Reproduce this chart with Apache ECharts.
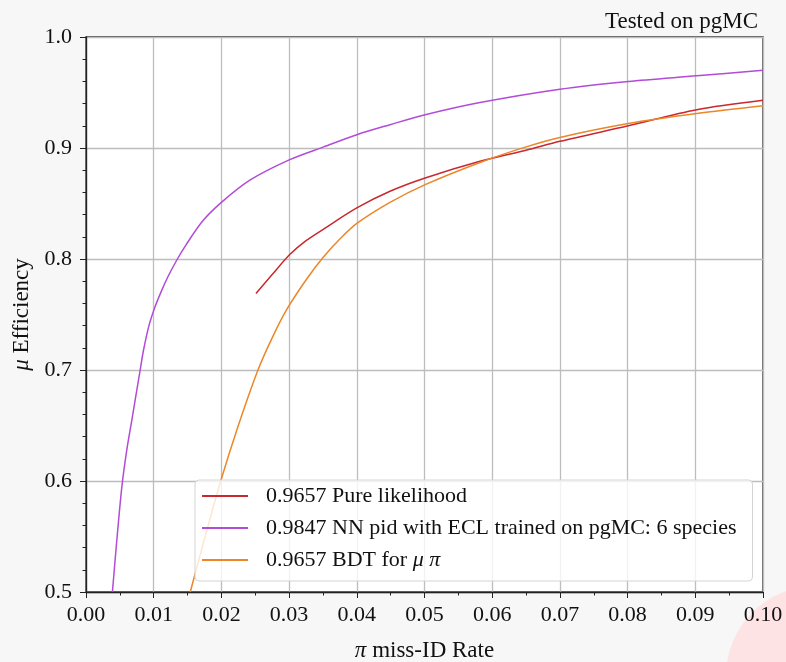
<!DOCTYPE html>
<html>
<head>
<meta charset="utf-8">
<script src="https://cdn.jsdelivr.net/npm/echarts@6/dist/echarts.min.js"></script>
<style>
  html, body { margin: 0; padding: 0; background: #f7f7f7; }
  #chart { width: 786px; height: 662px; }
</style>
</head>
<body>
<div id="chart"></div>
<script>
// Muon efficiency vs. pion mis-identification rate for three PID methods

const seriesNames = [
  '0.9657 Pure likelihood',
  '0.9847 NN pid with ECL trained on pgMC: 6 species',
  '0.9657 BDT for μ π'
];

// Pure likelihood
const likeRate = [0.0251, 0.0275, 0.0301, 0.0325, 0.0351, 0.0400, 0.0449, 0.0501, 0.0582, 0.0650, 0.0700, 0.0801, 0.0902, 0.1000];
const likeEff  = [0.769, 0.786, 0.804, 0.8165, 0.827, 0.846, 0.861, 0.873, 0.888, 0.898, 0.906, 0.920, 0.9345, 0.943];

// NN pid with ECL
const nnRate = [0.0039, 0.0046, 0.0053, 0.0060, 0.0068, 0.0080, 0.0085, 0.0093, 0.0102, 0.0112, 0.0121, 0.0135, 0.0148, 0.0172, 0.0200, 0.0242, 0.0301, 0.0351, 0.0400, 0.0449, 0.0501, 0.0582, 0.0700, 0.0801, 0.0902, 0.1000];
const nnEff  = [0.500, 0.550, 0.595, 0.627, 0.656, 0.700, 0.718, 0.740, 0.757, 0.772, 0.784, 0.800, 0.813, 0.834, 0.851, 0.871, 0.8895, 0.901, 0.912, 0.921, 0.930, 0.941, 0.953, 0.960, 0.965, 0.970];

// BDT for mu/pi
const bdtRate = [0.0154, 0.0176, 0.0199, 0.0225, 0.0254, 0.0275, 0.0297, 0.0326, 0.0351, 0.0375, 0.0400, 0.0449, 0.0501, 0.0582, 0.0650, 0.0700, 0.0801, 0.0902, 0.1000];
const bdtEff  = [0.500, 0.550, 0.600, 0.650, 0.700, 0.729, 0.755, 0.782, 0.802, 0.818, 0.832, 0.851, 0.867, 0.887, 0.901, 0.9095, 0.922, 0.931, 0.938];

const seriesColors = ['#c8282e', '#b24bd8', '#ec8628'];

const xRange = [0, 0.10];
const yRange = [0.5, 1.0];
const xStep = 0.01;
const yStep = 0.1;

const titleText = 'Tested on pgMC';

const FONT = '"Liberation Serif", "Times New Roman", serif';

function zip(xs, ys) { return xs.map((x, i) => [x, ys[i]]); }

const curves = [zip(likeRate, likeEff), zip(nnRate, nnEff), zip(bdtRate, bdtEff)];

const chart = echarts.init(document.getElementById('chart'), null, { renderer: 'canvas' });

const italic = { fontFamily: FONT, fontStyle: 'italic', fontSize: 22, color: '#111', lineHeight: 24 };

chart.setOption({
  backgroundColor: '#f7f7f7',
  animation: false,
  graphic: [{
    type: 'circle',
    z: -10,
    silent: true,
    shape: { cx: 816, cy: 676, r: 90 },
    style: { fill: '#fde3e3' }
  }],
  title: {
    text: titleText,
    right: 23,
    top: 5,
    textStyle: { fontFamily: FONT, fontSize: 23, fontWeight: 'normal', color: '#111' }
  },
  grid: {
    left: 86, right: 23, top: 37, bottom: 70,
    outerBoundsMode: 'none',
    containLabel: false,
    show: true,
    backgroundColor: '#ffffff',
    borderColor: '#222',
    borderWidth: 1.3
  },
  legend: {
    orient: 'vertical',
    left: 195,
    top: 480,
    icon: 'rect',
    itemWidth: 46,
    itemHeight: 2,
    itemGap: 8,
    padding: [4, 16, 9, 7],
    backgroundColor: 'rgba(255,255,255,0.8)',
    borderColor: '#d4d4d4',
    borderWidth: 1,
    borderRadius: 4,
    data: seriesNames,
    formatter: name => name.replace(/([μπ])/g, '{i|$1}'),
    textStyle: {
      fontFamily: FONT, fontSize: 22, color: '#111', lineHeight: 24,
      padding: [0, 0, 0, 13],
      rich: { i: italic }
    }
  },
  xAxis: {
    type: 'value',
    min: xRange[0], max: xRange[1], interval: xStep,
    name: '{i|π} miss-ID Rate',
    nameLocation: 'middle',
    nameGap: 47,
    nameTextStyle: {
      fontFamily: FONT, fontSize: 23, color: '#111',
      rich: { i: Object.assign({}, italic, { fontSize: 23 }) }
    },
    axisLine: { show: true, lineStyle: { color: '#222', width: 1.3 } },
    axisTick: { show: true, inside: false, length: 6, lineStyle: { color: '#222', width: 1 } },
    minorTick: { show: true, splitNumber: 2, length: 3.5, lineStyle: { color: '#222', width: 1 } },
    axisLabel: {
      margin: 12,
      fontFamily: FONT, fontSize: 22, color: '#111',
      formatter: v => v.toFixed(2)
    },
    splitLine: { show: true, lineStyle: { color: '#bdbdbd', width: 1.3 } }
  },
  yAxis: {
    type: 'value',
    min: yRange[0], max: yRange[1], interval: yStep,
    name: '{i|μ} Efficiency',
    nameLocation: 'middle',
    nameGap: 42,
    nameRotate: 90,
    nameTextStyle: {
      fontFamily: FONT, fontSize: 23, color: '#111',
      rich: { i: Object.assign({}, italic, { fontSize: 23 }) }
    },
    axisLine: { show: true, lineStyle: { color: '#222', width: 1.3 } },
    axisTick: { show: true, inside: false, length: 6, lineStyle: { color: '#222', width: 1 } },
    minorTick: { show: true, splitNumber: 5, length: 3.5, lineStyle: { color: '#222', width: 1 } },
    axisLabel: {
      margin: 14,
      fontFamily: FONT, fontSize: 22, color: '#111',
      formatter: v => v.toFixed(1)
    },
    splitLine: { show: true, lineStyle: { color: '#bdbdbd', width: 1.3 } }
  },
  series: seriesNames.map((name, i) => ({
    name: name,
    type: 'line',
    data: curves[i],
    symbol: 'none',
    smooth: 0.3,
    clip: true,
    color: seriesColors[i],
    lineStyle: { color: seriesColors[i], width: 1.5 },
    z: 2
  }))
});
</script>
</body>
</html>
